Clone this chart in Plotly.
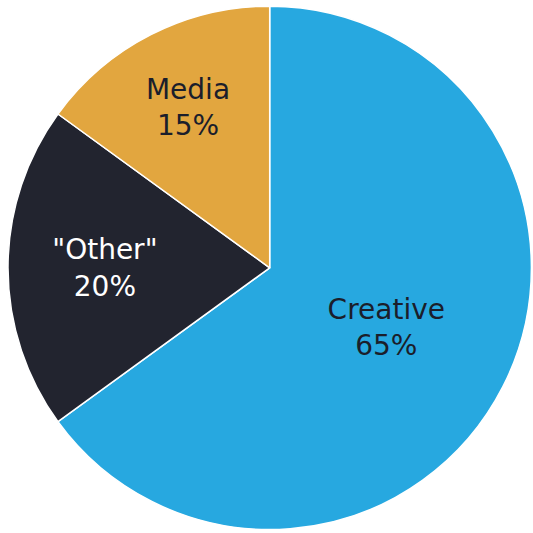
import plotly.graph_objects as go

labels = ["Creative", '"Other"', "Media"]
values = [65, 20, 15]
colors = ["#27A8E0", "#22242F", "#E2A63F"]
text_colors = ["#1B1E2B", "#FFFFFF", "#1B1E2B"]

fig = go.Figure(go.Pie(
    labels=labels,
    values=values,
    sort=False,
    direction="clockwise",
    rotation=0,
    marker=dict(colors=colors, line=dict(color="#FFFFFF", width=1.5)),
    texttemplate="%{label}<br>%{percent:.0%}",
    textposition="inside",
    insidetextorientation="horizontal",
    insidetextfont=dict(family="DejaVu Sans", size=28, color=text_colors),
    hoverinfo="none",
    showlegend=False,
    domain=dict(x=[0.015, 0.997], y=[0.004, 0.991]),
))
fig.update_layout(
    width=533, height=533,
    margin=dict(l=0, r=0, t=0, b=0),
    paper_bgcolor="#FFFFFF",
    uniformtext=dict(minsize=28, mode="show"),
)
fig.write_html("out.html")
